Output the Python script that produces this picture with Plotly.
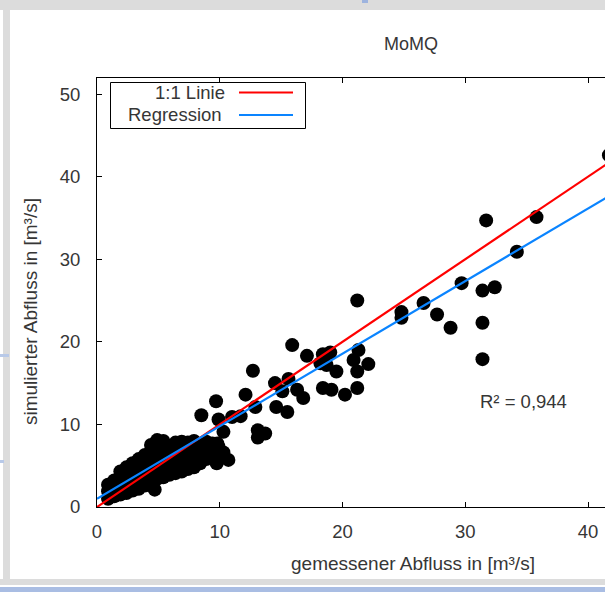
import plotly.graph_objects as go

# ---------------- data ----------------
# measured (x) vs simulated (y) monthly mean discharge MoMQ
obs_upper = [41.7, 31.7, 35.8, 34.2, 29.7, 31.4, 32.4, 31.4, 31.4, 28.8, 27.7, 26.6, 24.8, 24.8, 21.2]
sim_upper = [42.6, 34.7, 35.1, 30.9, 27.1, 26.2, 26.6, 22.3, 17.9, 21.7, 23.3, 24.7, 23.6, 22.9, 25.0]

obs_mid = [15.9, 17.1, 18.4, 19.0, 18.2, 18.7, 19.5, 20.9, 21.3, 21.2, 22.1, 19.1, 20.2, 21.2,
           18.4, 16.8, 16.3, 15.6, 15.1, 14.5, 12.7, 12.1, 14.6, 15.5, 12.9, 9.7, 8.5, 9.9,
           11.0, 11.7, 13.1, 13.7, 13.1, 10.3, 8.9, 9.8, 10.7, 9.75, 4.7]
sim_mid = [19.6, 18.3, 18.5, 18.7, 17.4, 17.2, 16.4, 17.8, 19.0, 16.4, 17.3, 14.2, 13.6, 14.4,
           14.4, 13.2, 14.2, 15.5, 14.0, 15.0, 16.5, 13.6, 12.1, 11.5, 12.1, 12.8, 11.1, 10.6,
           10.9, 11.0, 9.3, 8.9, 8.4, 9.1, 7.9, 7.7, 5.7, 5.3, 2.1]

obs_low = [0.9, 0.9, 0.9,
           1.4, 1.4, 1.4,
           1.9, 1.9, 1.9, 1.9,
           2.4, 2.4, 2.4, 2.4,
           2.9, 2.9, 2.9, 2.9,
           3.4, 3.4, 3.4, 3.4,
           3.9, 3.9, 3.9, 3.9,
           4.4, 4.4, 4.4, 4.4, 4.4,
           4.9, 4.9, 4.9, 4.9, 4.9,
           5.4, 5.4, 5.4, 5.4, 5.4,
           5.9, 5.9, 5.9, 5.9,
           6.4, 6.4, 6.4, 6.4,
           6.9, 6.9, 6.9, 6.9,
           7.4, 7.4, 7.4, 7.4,
           7.9, 7.9, 7.9, 7.9,
           8.4, 8.4, 8.4,
           8.9, 8.9, 8.9,
           9.4, 9.4, 9.4,
           9.9, 9.9, 10.3]
sim_low = [1.0, 1.9, 2.7,
           1.3, 2.3, 3.2,
           1.5, 2.6, 3.6, 4.3,
           1.7, 2.9, 3.8, 4.8,
           2.0, 3.1, 4.2, 5.3,
           2.2, 3.4, 4.5, 5.8,
           2.6, 3.7, 4.9, 6.3,
           3.0, 4.1, 5.3, 6.6, 7.5,
           3.4, 4.4, 5.6, 6.9, 8.1,
           3.6, 4.8, 6.0, 7.2, 8.0,
           3.9, 5.0, 6.2, 7.4,
           4.1, 5.3, 6.6, 7.8,
           4.3, 5.5, 6.8, 7.9,
           4.6, 5.9, 7.1, 7.8,
           4.8, 6.1, 7.3, 8.0,
           5.3, 6.4, 7.6,
           5.8, 6.6, 7.8,
           6.1, 6.9, 7.7,
           6.2, 7.3, 6.6]

one_to_one_x = [0, 42]
one_to_one_y = [0, 42]
reg_x = [0, 42]
reg_y = [1.0, 37.9]

x_ticks = [0, 10, 20, 30, 40]
y_ticks = [0, 10, 20, 30, 40, 50]

r2_label = "R² = 0,944"
title_text = "MoMQ"
x_title = "gemessener Abfluss in [m³/s]"
y_title = "simulierter Abfluss in [m³/s]"
legend_names = ["1:1 Linie", "Regression"]

# ---------------- layout geometry ----------------
W, H = 605, 592
ML, MR, MT, MB = 97, 0, 78, 85
PW, PH = W - ML - MR, H - MT - MB
BASE = H - MB


def px(x):
    return (x - ML) / PW


def py(y):
    return (BASE - y) / PH


FONT = "Liberation Sans, Arial, sans-serif"
TXT = "#363636"

fig = go.Figure()
fig.add_trace(go.Scatter(
    x=obs_upper + obs_mid + obs_low, y=sim_upper + sim_mid + sim_low,
    mode="markers", marker=dict(color="black", size=14, line=dict(width=0)),
    showlegend=False, hoverinfo="skip"))
fig.add_trace(go.Scatter(x=one_to_one_x, y=one_to_one_y, mode="lines",
                         line=dict(color="#ff0000", width=2.2), name=legend_names[0], showlegend=False))
fig.add_trace(go.Scatter(x=reg_x, y=reg_y, mode="lines",
                         line=dict(color="#0a84ff", width=2.2), name=legend_names[1], showlegend=False))

axis_common = dict(
    showgrid=False, zeroline=False, showline=True, linecolor="black", linewidth=1,
    ticks="inside", ticklen=5, tickwidth=1, tickcolor="black",
    tickfont=dict(family=FONT, size=18.5, color=TXT),
)
fig.update_xaxes(range=[0, 41.38], tickvals=x_ticks, mirror="ticks", ticklabelstandoff=8, **axis_common)
fig.update_yaxes(range=[0, 51.94], tickvals=y_ticks, mirror=False, ticklabelstandoff=12, **axis_common)

ann = []


def add_text(text, x, y, xanchor="center", angle=0, size=18.5):
    ann.append(dict(text=text, x=px(x), y=py(y), xref="paper", yref="paper",
                    xanchor=xanchor, yanchor="middle", showarrow=False, textangle=angle,
                    font=dict(family=FONT, size=size, color=TXT)))


add_text(title_text, 411, 44, size=18)
add_text(x_title, 413, 563, size=19)
add_text(y_title, 30, 312, angle=-90, size=19)
add_text(r2_label, 523, 401)
add_text(legend_names[0], 227, 92.5, xanchor="right")
add_text(legend_names[1], 224, 115, xanchor="right")

shapes = []


def rect(x0, y0, x1, y1, fill=None, line=None):
    shapes.append(dict(type="rect", xref="paper", yref="paper",
                       x0=px(x0), x1=px(x1), y0=py(y0), y1=py(y1),
                       fillcolor=fill or "rgba(0,0,0,0)",
                       line=dict(width=1 if line else 0, color=line or "rgba(0,0,0,0)")))


def hline(x0, x1, y, color, width=2.2):
    shapes.append(dict(type="line", xref="paper", yref="paper",
                       x0=px(x0), x1=px(x1), y0=py(y), y1=py(y),
                       line=dict(color=color, width=width)))


# legend box and samples
rect(110.5, 82.5, 305.5, 128.5, fill="white", line="black")
hline(239, 293, 92.5, "#ff0000")
hline(239, 293, 115, "#0a84ff")

# outer window frame (screenshot border)
rect(0, 0, 605, 10, fill="#dcdcdc")
rect(3, 0, 10, 585, fill="#dcdcdc")
rect(0, 579, 605, 585, fill="#dcdcdc")
rect(0, 587, 605, 592, fill="#a9bde3")
rect(362, 0, 368, 3, fill="#9db3de")
rect(0, 354, 9, 357, fill="#b8c9e8")
rect(0, 460, 4, 463, fill="#b8c9e8")

fig.update_layout(
    width=W, height=H, margin=dict(l=ML, r=MR, t=MT, b=MB, pad=0),
    paper_bgcolor="white", plot_bgcolor="white",
    annotations=ann, shapes=shapes, showlegend=False,
)

fig.write_html("out.html", config={"displayModeBar": False, "staticPlot": True},
               post_script="document.body.style.margin='0';document.body.style.overflow='hidden';")
